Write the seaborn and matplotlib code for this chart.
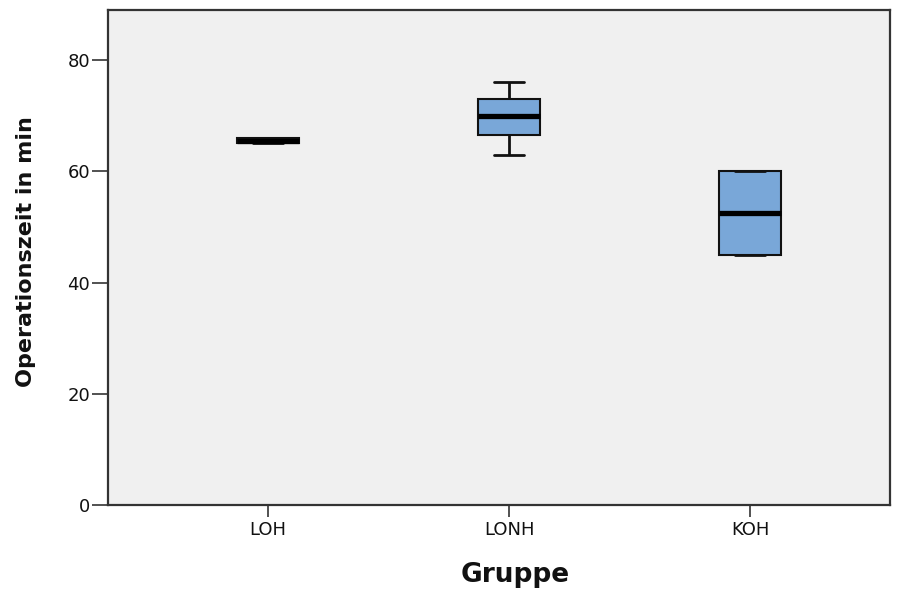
import matplotlib
matplotlib.use("Agg")
import matplotlib.pyplot as plt
import seaborn as sns
import pandas as pd

# Operation times (minutes) per group
groups = ["LOH", "LONH", "KOH"]
loh_times = [65, 65, 65.5, 66, 66]
lonh_times = [63, 66.5, 70, 73, 76]
koh_times = [45, 45, 52.5, 60, 60]

y_ticks = [0, 20, 40, 60, 80]
x_label = "Gruppe"
y_label = "Operationszeit in min"

df = pd.DataFrame({
    "Gruppe": ["LOH"] * len(loh_times) + ["LONH"] * len(lonh_times) + ["KOH"] * len(koh_times),
    "Zeit": loh_times + lonh_times + koh_times,
})

sns.set_style("white", {"axes.facecolor": "#F0F0F0"})
plt.rcParams["font.family"] = ["DejaVu Sans"]

fig = plt.figure(figsize=(9.01, 5.90), dpi=100)
ax = fig.add_axes([108 / 901, 85 / 590, 782 / 901, 495 / 590])

sns.boxplot(
    data=df, x="Gruppe", y="Zeit", order=groups, ax=ax,
    color="#79A7D8", saturation=1, width=0.255,
    linecolor="#111111", linewidth=1.5,
    medianprops={"linewidth": 3.8, "color": "black"},
    whiskerprops={"linewidth": 2.0},
    capprops={"linewidth": 2.0},
    showfliers=False,
)

ax.set_xlim(-0.664, 2.581)
ax.set_ylim(0, 89)
ax.set_yticks(y_ticks)
ax.set_yticklabels([str(t) for t in y_ticks])

for side in ["left", "bottom", "top", "right"]:
    ax.spines[side].set_visible(True)
    ax.spines[side].set_color("#333333")
    ax.spines[side].set_linewidth(1.6)

ax.tick_params(axis="y", which="major", direction="out", length=11.5, width=1.2,
               color="#333333", labelsize=13, pad=1.5, left=True, labelcolor="#111111")
ax.tick_params(axis="x", which="major", direction="out", length=8.5, width=1.2,
               color="#333333", labelsize=13, pad=3, bottom=True, labelcolor="#111111")

ax.set_xlabel(x_label, fontsize=19, fontweight="bold", color="#111111")
ax.set_ylabel(y_label, fontsize=16, fontweight="bold", color="#111111")
ax.xaxis.set_label_coords((515 - 108) / 782, -0.115)
ax.yaxis.set_label_coords(-(108 - 36) / 782, (505 - 252) / 495)

fig.savefig("out.png", dpi=100, facecolor="white")
